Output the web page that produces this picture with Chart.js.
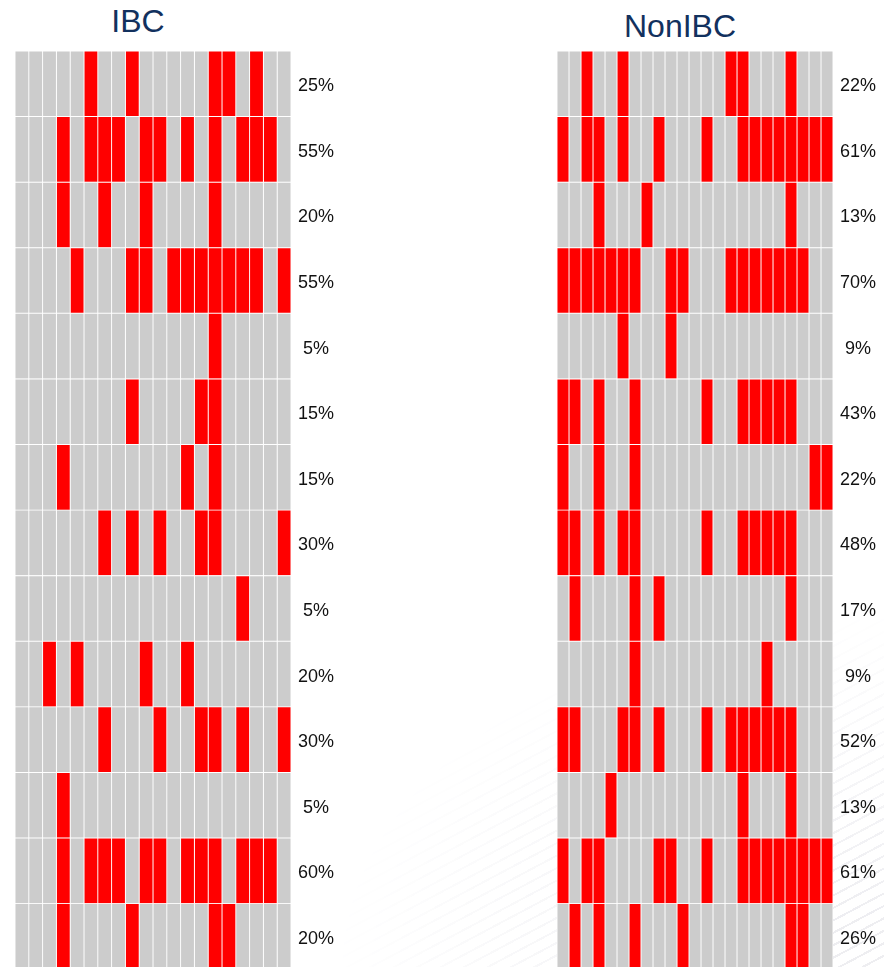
<!DOCTYPE html>
<html>
<head>
<meta charset="utf-8">
<script src="https://cdn.jsdelivr.net/npm/chart.js@4.4.1/dist/chart.umd.min.js"></script>
<style>
  html, body { margin: 0; padding: 0; background: #fff; }
  body { width: 884px; height: 967px; position: relative; overflow: hidden; font-family: "Liberation Sans", Arial, sans-serif; }
  .stripes {
    position: absolute; right: 0; bottom: 0; width: 560px; height: 360px;
    background: repeating-linear-gradient(-28deg, rgba(0,0,0,0) 0px, rgba(0,0,0,0) 9px, #ececf0 9px, #ececf0 11px);
    -webkit-mask-image: radial-gradient(ellipse at 100% 100%, rgba(0,0,0,0.9) 10%, rgba(0,0,0,0) 70%);
    mask-image: radial-gradient(ellipse at 100% 100%, rgba(0,0,0,0.9) 10%, rgba(0,0,0,0) 70%);
  }
  .title { position: absolute; font-size: 32px; line-height: 32px; color: #12315e; white-space: nowrap; transform: translateX(-50%); }
  canvas { position: absolute; top: 0; }
</style>
</head>
<body>
<div class="stripes"></div>
<div class="title" style="left:138px; top:5px;">IBC</div>
<div class="title" style="left:680px; top:10px;">NonIBC</div>
<!-- canvases run past the bottom edge; the last row is cut at the page border -->
<canvas id="ibcChart" width="360" height="987" style="left:0;"></canvas>
<canvas id="nonIbcChart" width="344" height="987" style="left:540px;"></canvas>

<script>
// IBC: 20 cells per row, each red cell = 5%
const ibcColumns = 20;
const ibcLabels = ['25%', '55%', '20%', '55%', '5%', '15%', '15%', '30%', '5%', '20%', '30%', '5%', '60%', '20%'];
const ibcRed = [
  [5, 8, 14, 15, 17],
  [3, 5, 6, 7, 9, 10, 12, 14, 16, 17, 18],
  [3, 6, 9, 14],
  [4, 8, 9, 11, 12, 13, 14, 15, 16, 17, 19],
  [14],
  [8, 13, 14],
  [3, 12, 14],
  [6, 8, 10, 13, 14, 19],
  [16],
  [2, 4, 9, 12],
  [6, 10, 13, 14, 16, 19],
  [3],
  [3, 5, 6, 7, 9, 10, 12, 13, 14, 16, 17, 18],
  [3, 8, 14, 15]
];

// NonIBC: 23 cells per row
const nonIbcColumns = 23;
const nonIbcLabels = ['22%', '61%', '13%', '70%', '9%', '43%', '22%', '48%', '17%', '9%', '52%', '13%', '61%', '26%'];
const nonIbcRed = [
  [2, 5, 14, 15, 19],
  [0, 2, 3, 5, 8, 12, 15, 16, 17, 18, 19, 20, 21, 22],
  [3, 7, 19],
  [0, 1, 2, 3, 4, 5, 6, 9, 10, 14, 15, 16, 17, 18, 19, 20],
  [5, 9],
  [0, 1, 3, 6, 12, 15, 16, 17, 18, 19],
  [0, 3, 6, 21, 22],
  [0, 1, 3, 5, 6, 12, 15, 16, 17, 18, 19],
  [1, 6, 8, 19],
  [6, 17],
  [0, 1, 5, 6, 8, 12, 14, 15, 16, 17, 18, 19],
  [4, 15, 19],
  [0, 2, 3, 8, 9, 12, 15, 16, 17, 18, 19, 20, 21, 22],
  [1, 3, 6, 10, 19, 20]
];

const RED = '#ff0000';
const GREY = '#cccccc';

// one stacked dataset per column, one category per row
function buildDatasets(columns, redRows) {
  const sets = [];
  for (let c = 0; c < columns; c++) {
    sets.push({
      data: redRows.map(() => 1),
      backgroundColor: redRows.map(cells => cells.includes(c) ? RED : GREY),
      borderColor: '#ffffff',
      borderWidth: 0.8,
      borderSkipped: false,
      barPercentage: 1,
      categoryPercentage: 1
    });
  }
  return sets;
}

function makeGrid(canvasId, columns, labels, redRows, padLeft, axisWidth) {
  return new Chart(document.getElementById(canvasId), {
    type: 'bar',
    data: { labels: labels, datasets: buildDatasets(columns, redRows) },
    options: {
      indexAxis: 'y',
      responsive: false,
      animation: false,
      layout: { padding: { left: padLeft, top: 51, right: 0, bottom: 0 } },
      plugins: { legend: { display: false }, tooltip: { enabled: false }, title: { display: false } },
      scales: {
        x: { stacked: true, min: 0, max: columns, display: false },
        y: {
          stacked: true,
          position: 'right',
          grid: { display: false, drawTicks: false },
          border: { display: false },
          ticks: {
            color: '#111',
            padding: 7,
            labelOffset: 2.5,
            crossAlign: 'center',
            font: { family: '"Liberation Sans", Arial, sans-serif', size: 18 }
          },
          afterFit: scale => { scale.width = axisWidth; }
        }
      }
    }
  });
}

makeGrid('ibcChart', ibcColumns, ibcLabels, ibcRed, 15, 69);
makeGrid('nonIbcChart', nonIbcColumns, nonIbcLabels, nonIbcRed, 17, 51);
</script>
</body>
</html>
